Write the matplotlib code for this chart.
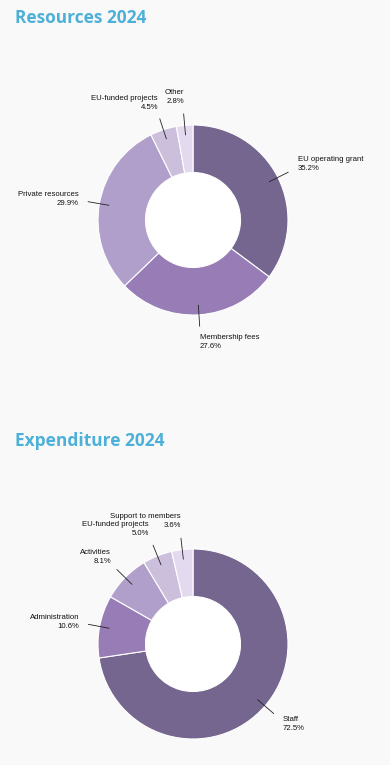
import numpy as np
import matplotlib.pyplot as plt

# données
res_labels = ["EU operating grant", "Membership fees", "Private resources", "EU-funded projects", "Other"]
res_values = [35.2, 27.6, 29.9, 4.5, 2.8]
exp_labels = ["Staff", "Administration", "Activities", "EU-funded projects", "Support to members"]
exp_values = [72.5, 10.6, 8.1, 5.0, 3.6]
couleurs = ["#75668f", "#977cb5", "#b09fcb", "#cbbfdc", "#e3daef"]

W, H = 390, 765
fig = plt.figure(figsize=(W / 100, H / 100), dpi=100, facecolor="#f9f9f9")
ax = fig.add_axes([0, 0, 1, 1])

R = 95
titre_couleur = "#4db0d8"
police = "Liberation Sans"

# position du texte (px depuis le coin haut-gauche) et alignement pour chaque label
res_textes = [(298, 164, "left"), (200, 342, "left"), (79, 199, "right"), (158, 103, "right"), (184, 97, "right")]
exp_textes = [(283, 724, "left"), (79, 622, "right"), (111, 557, "right"), (149, 529, "right"), (181, 521, "right")]


def donut(cx, cy, labels, values, textes):
    cy = H - cy
    ax.pie(values, colors=couleurs, startangle=90, counterclock=False,
           center=(cx, cy), radius=R, frame=True,
           wedgeprops=dict(width=R * 0.5, edgecolor="white", linewidth=0.8))
    ax.add_patch(plt.Circle((cx, cy), R * 0.5, color="white", zorder=0.5))
    cumul = np.cumsum([0] + values[:-1])
    total = sum(values)
    for lab, v, c, (tx, ty, ha) in zip(labels, values, cumul, textes):
        ang = np.deg2rad(90 - (c + v / 2) / total * 360)
        x1, y1 = cx + 0.9 * R * np.cos(ang), cy + 0.9 * R * np.sin(ang)
        x2, y2 = cx + 1.12 * R * np.cos(ang), cy + 1.12 * R * np.sin(ang)
        ax.plot([x1, x2], [y1, y2], color="#222222", lw=0.6)
        ax.text(tx, H - ty, lab + "\n" + f"{v:.1f}%", ha=ha, va="center",
                fontsize=5.6, family=police, color="#111111", linespacing=1.35)


donut(193, 220, res_labels, res_values, res_textes)
donut(193, 644, exp_labels, exp_values, exp_textes)

ax.text(15, H - 18, "Resources 2024", fontsize=12.5, fontweight="bold", family="Open Sans",
        color=titre_couleur, va="center")
ax.text(15, H - 441, "Expenditure 2024", fontsize=12.5, fontweight="bold", family="Open Sans",
        color=titre_couleur, va="center")

ax.set_xlim(0, W)
ax.set_ylim(0, H)
ax.set_aspect("equal")
ax.axis("off")

fig.savefig("out.png", dpi=100, facecolor=fig.get_facecolor())
